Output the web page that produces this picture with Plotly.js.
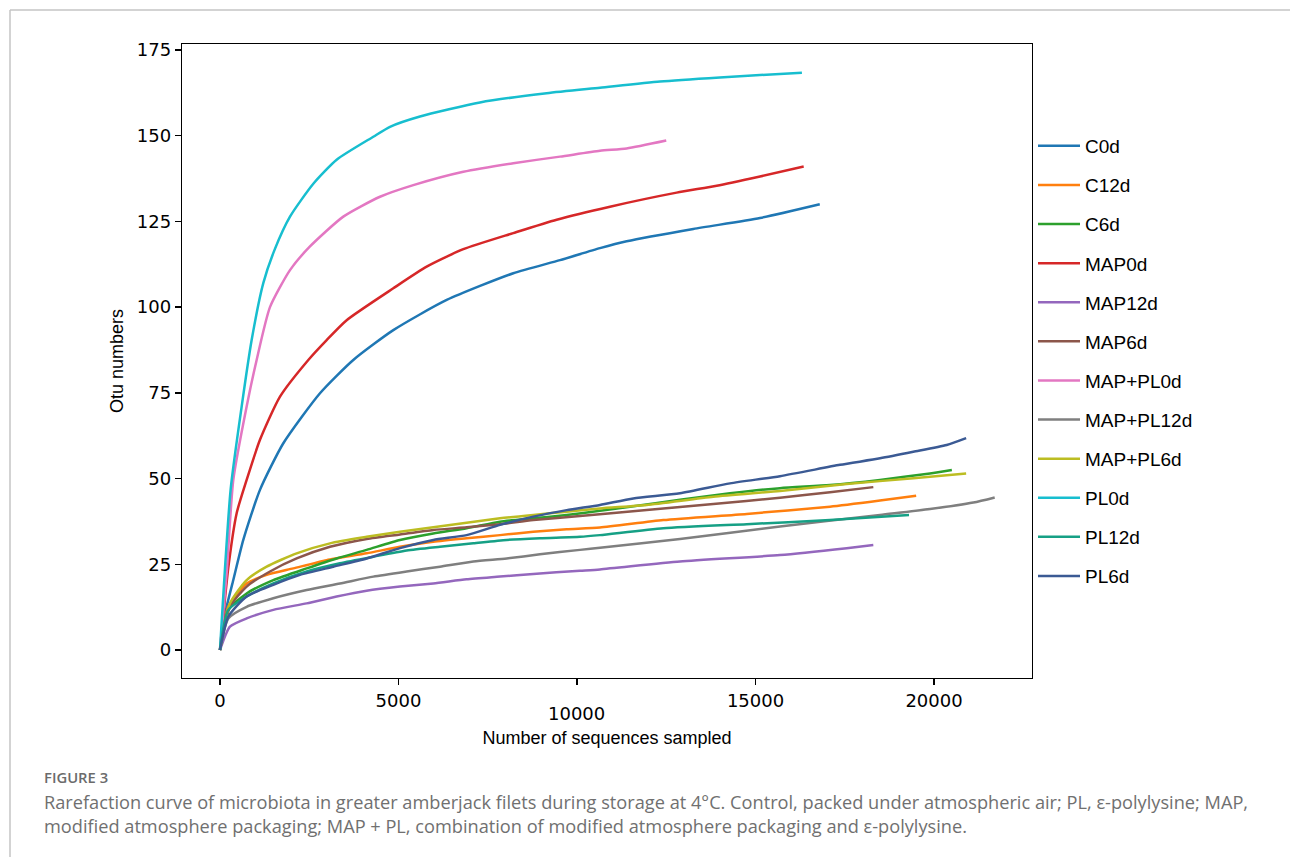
<!DOCTYPE html>
<html>
<head>
<meta charset="utf-8">
<script src="https://cdn.plot.ly/plotly-3.0.1.min.js"></script>
<style>
  html, body { margin: 0; padding: 0; background: #ffffff; }
  #chart { width: 1290px; height: 857px; }
</style>
</head>
<body>
<div id="chart"></div>
<script>
// ---- data ----
const seriesNames = ["C0d", "C12d", "C6d", "MAP0d", "MAP12d", "MAP6d", "MAP+PL0d", "MAP+PL12d", "MAP+PL6d", "PL0d", "PL12d", "PL6d"];

const C0d_x = [0, 187, 373, 653, 1120, 1774, 2801, 3734, 4855, 6350, 8216, 9524, 10644, 11391, 13259, 15126, 16800];
const C0d_y = [0, 12.6, 20.4, 32.1, 46.7, 60.3, 74.9, 84.6, 93.3, 102.1, 109.9, 113.7, 117.2, 119.2, 122.8, 126, 130];

const C12d_x = [0, 233, 747, 1307, 2054, 2988, 4108, 5042, 5975, 6909, 7843, 8776, 9711, 10644, 12419, 14753, 17087, 18487, 19500];
const C12d_y = [0, 12.6, 19.4, 21.9, 23.8, 26.2, 28.2, 30.1, 31.6, 32.6, 33.5, 34.5, 35.2, 35.7, 37.9, 39.7, 41.8, 43.6, 45];

const C6d_x = [0, 233, 747, 1494, 2428, 3268, 4108, 5042, 5975, 6909, 7843, 8776, 9711, 10644, 11485, 12885, 14286, 15686, 17087, 18487, 19888, 20500];
const C6d_y = [0, 11.7, 16.5, 20.4, 23.8, 26.7, 29.2, 32.1, 34, 35.5, 37.4, 38.4, 39.4, 40.6, 41.8, 43.8, 45.7, 47.2, 48.1, 49.6, 51.5, 52.5];

const MAP0d_x = [0, 233, 467, 747, 1120, 1681, 2474, 2988, 3548, 4855, 5789, 6816, 8216, 9430, 10924, 12792, 13913, 15126, 16350];
const MAP0d_y = [0, 24, 39.9, 49.6, 61.3, 73.9, 84.6, 90.4, 96.2, 105.5, 111.8, 116.9, 121.6, 125.5, 129.3, 133.4, 135.4, 138.1, 141];

const MAP12d_x = [0, 280, 747, 1494, 2428, 3268, 4108, 5042, 5975, 6909, 7843, 8776, 10084, 10644, 12885, 15686, 17554, 18300];
const MAP12d_y = [0, 6.8, 9.2, 11.7, 13.6, 15.6, 17.3, 18.5, 19.4, 20.6, 21.4, 22.2, 23.1, 23.5, 25.8, 27.7, 29.7, 30.6];

const MAP6d_x = [0, 280, 747, 1401, 2148, 3081, 4108, 5042, 5975, 6909, 7843, 8776, 10084, 11951, 13819, 15686, 17087, 18300];
const MAP6d_y = [0, 12.6, 18.5, 22.9, 26.7, 30.1, 32.4, 33.7, 35, 35.8, 36.7, 37.9, 39.1, 40.8, 42.6, 44.4, 46, 47.5];

const MAPPL0d_x = [0, 187, 373, 747, 1027, 1400, 1961, 2521, 3455, 4482, 5415, 6816, 8216, 9524, 10644, 11391, 12500];
const MAPPL0d_y = [0, 22.4, 49.6, 71, 84.6, 100, 110.8, 117.7, 126.4, 132.2, 135.6, 139.5, 142, 143.9, 145.6, 146.3, 148.6];

const MAPPL12d_x = [0, 233, 747, 1494, 2428, 3361, 4295, 5228, 6162, 7096, 8030, 8963, 10084, 10644, 12885, 15686, 18487, 19888, 21101, 21700];
const MAPPL12d_y = [0, 9.2, 12.6, 15.1, 17.5, 19.4, 21.4, 22.9, 24.3, 25.8, 26.7, 27.9, 29.2, 29.8, 32.4, 36, 39.4, 41.1, 43, 44.5];

const MAPPL6d_x = [0, 280, 747, 1307, 2148, 3081, 4108, 5042, 5975, 6909, 7843, 8776, 9711, 10644, 11951, 13819, 15686, 17554, 19421, 20900];
const MAPPL6d_y = [0, 13.6, 20.4, 24.3, 28.2, 31.1, 33, 34.5, 35.8, 37.1, 38.4, 39.4, 40.3, 41.3, 42.3, 44.7, 46.4, 48.4, 50.1, 51.5];

const PL0d_x = [0, 300, 607, 887, 1213, 1540, 1961, 2614, 3268, 4295, 4762, 5602, 7283, 9150, 10644, 12325, 14000, 16300];
const PL0d_y = [0, 47, 71, 90.4, 107, 117, 126.4, 136, 143, 149.7, 152.6, 155.6, 159.7, 162.4, 164, 165.8, 167, 168.4];

const PL12d_x = [0, 233, 747, 1494, 2428, 3361, 4295, 5228, 6162, 7096, 8030, 8963, 10084, 10644, 12419, 14753, 17087, 19300];
const PL12d_y = [0, 11.7, 15.6, 19.4, 22.9, 25.3, 27.2, 29, 30.1, 31.1, 32.1, 32.6, 33, 33.5, 35.5, 36.7, 37.9, 39.4];

const PL6d_x = [0, 233, 747, 1494, 2241, 3174, 4108, 5042, 5975, 6909, 7843, 8776, 9711, 10644, 11577, 12885, 14286, 15686, 17367, 18487, 19421, 20355, 20900];
const PL6d_y = [0, 9.7, 15.6, 19, 21.9, 24.3, 26.7, 29.7, 32.1, 33.5, 36.5, 38.9, 40.8, 42.3, 44.2, 45.7, 48.6, 50.7, 54, 55.9, 57.8, 59.8, 61.8];

const xTickVals = [0, 5000, 10000, 15000, 20000];
const xTickText = ["0", "5000", "", "15000", "20000"];
const yTickVals = [0, 25, 50, 75, 100, 125, 150, 175];

const seriesX = [C0d_x, C12d_x, C6d_x, MAP0d_x, MAP12d_x, MAP6d_x, MAPPL0d_x, MAPPL12d_x, MAPPL6d_x, PL0d_x, PL12d_x, PL6d_x];
const seriesY = [C0d_y, C12d_y, C6d_y, MAP0d_y, MAP12d_y, MAP6d_y, MAPPL0d_y, MAPPL12d_y, MAPPL6d_y, PL0d_y, PL12d_y, PL6d_y];
const colors = ["#1f77b4", "#ff7f0e", "#2ca02c", "#d62728", "#9467bd", "#8c564b", "#e377c2", "#7f7f7f", "#bcbd22", "#17becf", "#16a085", "#3b5a94"];

// ---- geometry helpers (pixel -> paper) ----
const W = 1290, H = 857;
const L = 182, R = 1032, T = 44, B = 678;
const px = p => (p - L) / (R - L);
const py = p => (B - p) / (B - T);

const traces = seriesNames.map((name, i) => ({
  type: "scatter",
  mode: "lines",
  name: name,
  legendgroup: "g" + i,
  x: seriesX[i],
  y: seriesY[i],
  line: { color: colors[i], width: 2.5, shape: "spline", smoothing: 0.6 },
  hoverinfo: "skip"
}));

const captionFont = { family: "Open Sans, Lato, sans-serif", size: 18.2, color: "#707070" };

const layout = {
  width: W, height: H,
  paper_bgcolor: "#ffffff",
  plot_bgcolor: "#ffffff",
  margin: { l: L, r: W - R, t: T, b: H - B, pad: 0 },
  showlegend: true,
  legend: {
    x: px(1033), y: py(127), xanchor: "left", yanchor: "top",
    font: { family: "Liberation Sans, Arial, sans-serif", size: 19, color: "#000000" },
    tracegroupgap: 11.4,
    itemwidth: 42,
    bgcolor: "rgba(0,0,0,0)"
  },
  xaxis: {
    range: [-1064, 22745],
    tickmode: "array", tickvals: xTickVals, ticktext: xTickText,
    ticks: "outside", ticklen: 6, tickwidth: 1.3, tickcolor: "#000000",
    showline: true, mirror: true, linecolor: "#000000", linewidth: 1.3,
    showgrid: false, zeroline: false,
    tickfont: { family: "DejaVu Sans, sans-serif", size: 18, color: "#000000" },
    title: { text: "Number of sequences sampled", standoff: 21,
             font: { family: "Liberation Sans, Arial, sans-serif", size: 18, color: "#000000" } },
    automargin: false
  },
  yaxis: {
    range: [-8.17, 176.75],
    tickmode: "array", tickvals: yTickVals,
    ticks: "outside", ticklen: 6, tickwidth: 1.3, tickcolor: "#000000",
    showline: true, mirror: true, linecolor: "#000000", linewidth: 1.3,
    showgrid: false, zeroline: false,
    tickfont: { family: "DejaVu Sans, sans-serif", size: 18, color: "#000000" },
    title: { text: "Otu numbers", standoff: 8,
             font: { family: "Liberation Sans, Arial, sans-serif", size: 18, color: "#000000" } },
    automargin: false
  },
  shapes: [
    { type: "line", xref: "paper", yref: "paper", x0: px(10), x1: px(1290), y0: py(10), y1: py(10),
      line: { color: "#c4c4c4", width: 1.5 } },
    { type: "line", xref: "paper", yref: "paper", x0: px(10), x1: px(10), y0: py(10), y1: py(857),
      line: { color: "#c4c4c4", width: 1.5 } }
  ],
  annotations: [
    { xref: "x", yref: "paper", x: 10000, y: py(713), text: "10000", showarrow: false,
      xanchor: "center", yanchor: "middle",
      font: { family: "DejaVu Sans, sans-serif", size: 18, color: "#000000" } },
    { xref: "paper", yref: "paper", x: px(42), y: py(777), text: "FIGURE 3", showarrow: false,
      xanchor: "left", yanchor: "middle",
      font: { family: "Open Sans, Lato, sans-serif", size: 14.8, color: "#6b6b6b", weight: 600 } },
    { xref: "paper", yref: "paper", x: px(42), y: py(802), showarrow: false,
      text: "Rarefaction curve of microbiota in greater amberjack filets during storage at 4°C. Control, packed under atmospheric air; PL, ε-polylysine; MAP,",
      xanchor: "left", yanchor: "middle", font: captionFont },
    { xref: "paper", yref: "paper", x: px(42), y: py(826), showarrow: false,
      text: "modified atmosphere packaging; MAP + PL, combination of modified atmosphere packaging and ε-polylysine.",
      xanchor: "left", yanchor: "middle", font: captionFont }
  ]
};

Plotly.newPlot("chart", traces, layout, { displayModeBar: false, staticPlot: true });
</script>
</body>
</html>
